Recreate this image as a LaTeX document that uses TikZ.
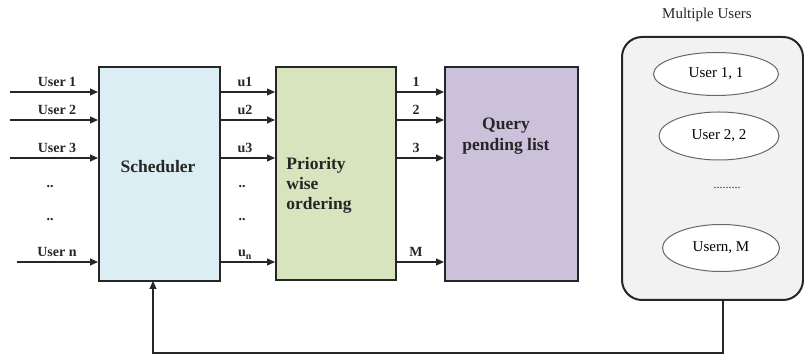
\documentclass[tikz,border=0pt]{standalone}
\usepackage{fontspec}
\setmainfont{Liberation Serif}
\usetikzlibrary{arrows.meta,positioning,shapes.geometric}
\definecolor{ink}{HTML}{262626}
\definecolor{schedblue}{HTML}{DAEEF3}
\definecolor{prioolive}{HTML}{D7E4BD}
\definecolor{querylilac}{HTML}{CCC1DA}
\definecolor{poolgray}{HTML}{F2F2F2}
\tikzset{block/.style={draw=ink,line width=2.2pt,anchor=north west,inner sep=0pt},
  flow/.style={-{Triangle[length=8pt,width=7pt]},line width=1.2pt,draw=ink},
  lbl/.style={font=\fontsize{14}{16}\selectfont\bfseries,inner sep=0pt,anchor=base,text=ink},
  title/.style={font=\fontsize{17.5}{20}\selectfont\bfseries,inner sep=0pt,text=ink},
  usr/.style={ellipse,draw=ink!70,line width=1pt,fill=white,inner sep=0pt,
  font=\fontsize{15}{17}\selectfont}}
\begin{document}
\begin{tikzpicture}[x=1pt,y=-1pt]
 \useasboundingbox (0,0) rectangle (804,355);
 % the three stages
 \node[block,fill=schedblue,minimum width=121pt,minimum height=214pt] (sched) at (98,66) {};
 \node[block,fill=prioolive,minimum width=120pt,minimum height=213pt] (prio) at (275,66) {};
 \node[block,fill=querylilac,minimum width=133pt,minimum height=214pt] (query) at (444,66) {};
 \node[title] at (158,167) {Scheduler};
 \node[title,align=left] at (319,185) {Priority\\wise\\ordering};
 \node[title,align=center,font=\fontsize{17.5}{21}\selectfont\bfseries] at (506,136) {Query\\pending list};
 % user pool
 \node[draw=ink,line width=2pt,fill=poolgray,rounded corners=20pt,anchor=north west,
  minimum width=181pt,minimum height=263pt,inner sep=0pt] (pool) at (621,36) {};
 \node[font=\fontsize{15}{17}\selectfont,text=ink] (pooltitle) at (707,15) {Multiple Users};
 \node[usr,minimum width=125pt,minimum height=43pt] (u1) at (716,74) {User 1, 1};
 \node[usr,minimum width=120pt,minimum height=48pt] (u2) at (719,136) {User 2, 2};
 \node[font=\fontsize{12}{14}\selectfont,text=ink] (udots) at (727,188) {.........};
 \node[usr,minimum width=117pt,minimum height=47pt] (um) at (721,248) {Usern, M};
 % request lines
 \foreach \x/\y/\i/\a/\b/\c in {10/92/1/User 1/u1/1,10/120/2/User 2/u2/2,
   10/158/3/User 3/u3/3,17/262/n/User n/u\textsubscript{n}/M} {
  \coordinate (in\i) at (\x,\y);
  \draw[flow] (in\i) -- (in\i -| sched.west);
  \draw[flow] (in\i -| sched.east) -- (in\i -| prio.west);
  \draw[flow] (in\i -| prio.east) -- (in\i -| query.west);
  \node[lbl] at (57,\y-5) {\a};
  \node[lbl] at (245,\y-5) {\b};
  \node[lbl] at (416,\y-5) {\c};
 }
 \foreach \y in {187,220} {
  \node[lbl,anchor=center] at (50,\y) {..};
  \node[lbl,anchor=center] at (242,\y) {..};
 }
 % feedback to the scheduler
 \coordinate (fbout) at (723,299);
 \coordinate (fbin) at (153,281);
 \draw[flow] (fbout) -- ++(0,54) -| (fbin);
\end{tikzpicture}
\end{document}
